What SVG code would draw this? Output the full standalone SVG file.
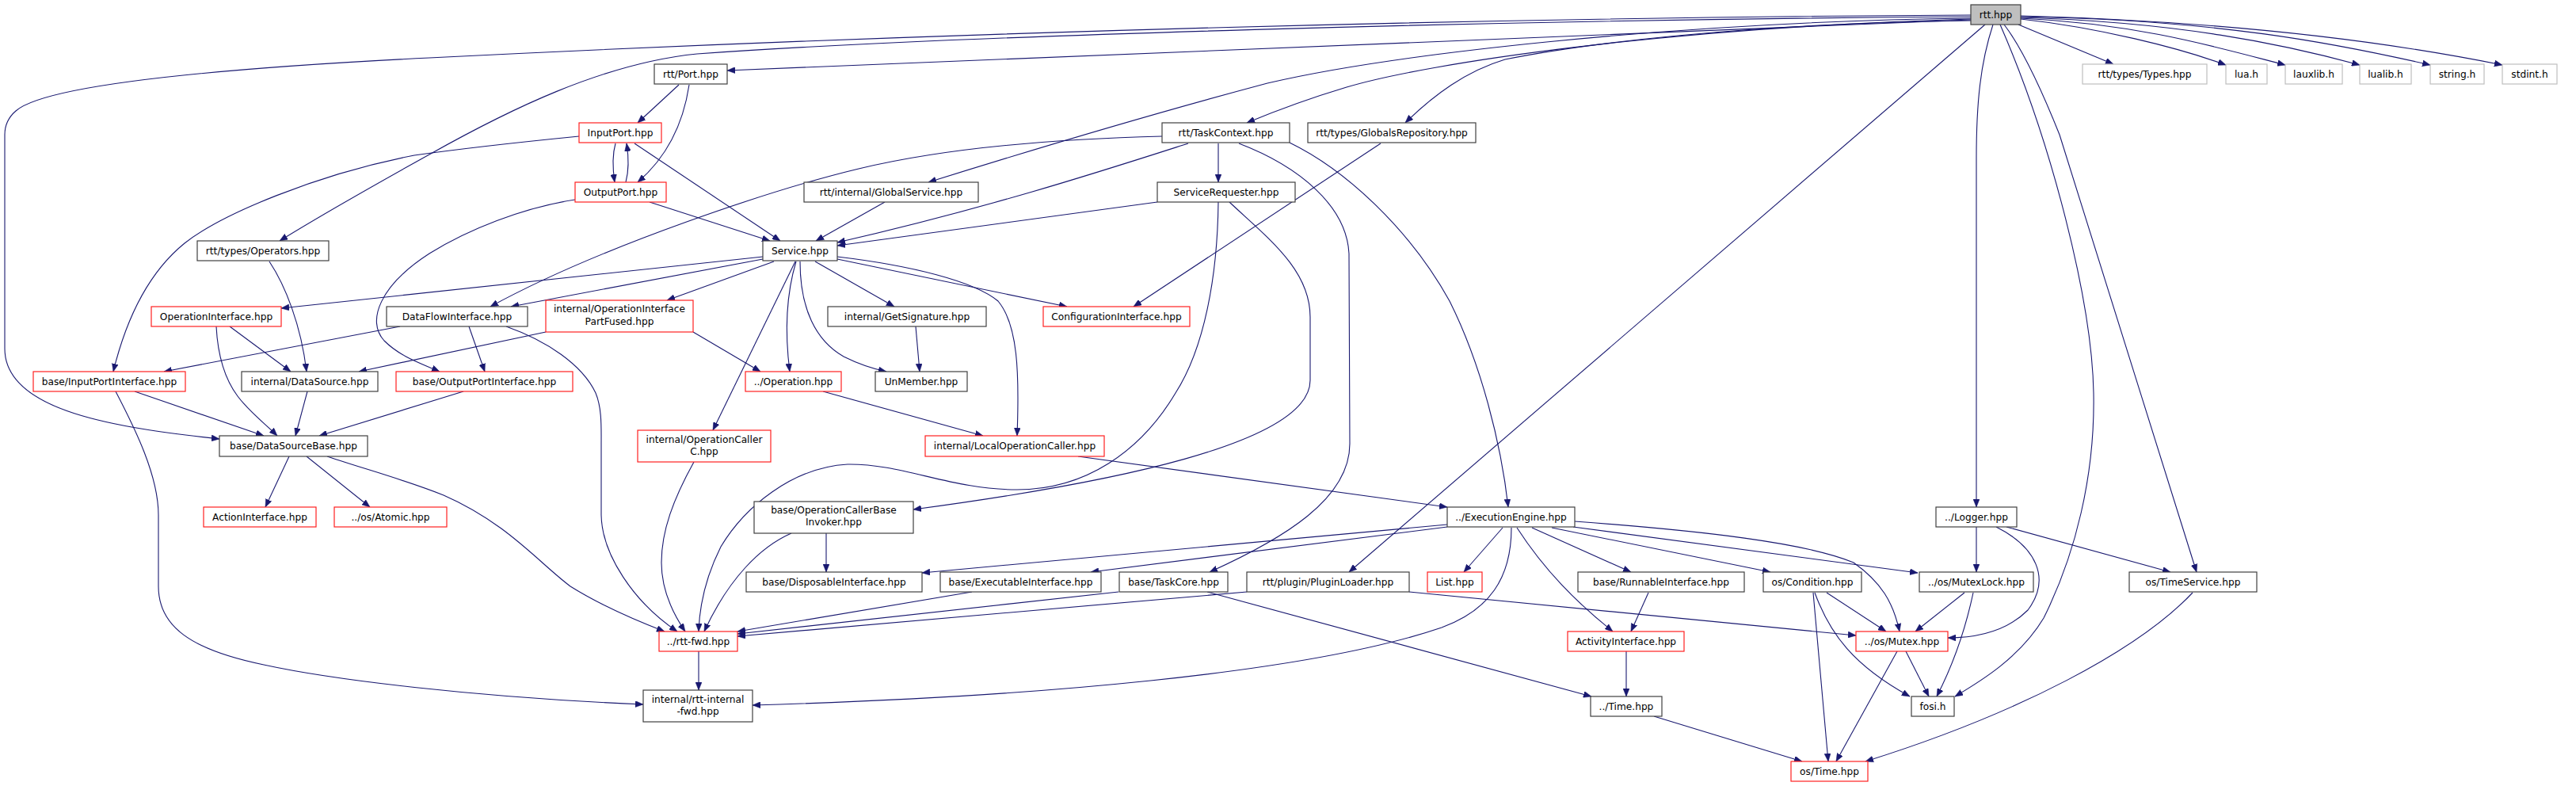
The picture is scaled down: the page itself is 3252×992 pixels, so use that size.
<svg xmlns="http://www.w3.org/2000/svg" width="3252" height="992" viewBox="0 0 3252 992">
<defs>
<style>
rect{fill:#fff;stroke:#404040;stroke-width:1.2}
rect.r{stroke:#ff2020}
rect.g{stroke:#bfbfbf}
rect.root{fill:#bfbfbf}
text{font-family:"DejaVu Sans","Liberation Sans",sans-serif;font-size:12.2px;text-anchor:middle;fill:#000}
#edges path{fill:none;stroke:#191970;stroke-width:1.1;marker-end:url(#a)}
</style>
<marker id="a" viewBox="0 0 10 8" markerWidth="10" markerHeight="8" refX="10" refY="4" orient="auto" markerUnits="userSpaceOnUse"><path d="M0,0 L10,4 L0,8 z" fill="#191970" stroke="#191970" stroke-width="0.5"/></marker>
</defs>
<rect x="0" y="0" width="3252" height="992" style="fill:#fff;stroke:none"/>
<g id="edges">
<path d="M2488,19 C1900,22 1200,40 542,73 C300,85 60,105 20,140 Q6,152 6,170 L6,440 C6,520 150,540 277,554"/>
<path d="M2488,25 L918,89"/>
<path d="M2488,21 C1900,25 1200,45 880,68 C760,80 640,140 542,195 C470,235 400,275 353,304"/>
<path d="M2488,23 C2100,28 1750,70 1600,105 C1450,145 1300,190 1172,230"/>
<path d="M2488,24 C2100,35 1800,80 1700,110 C1650,125 1610,140 1574,155"/>
<path d="M2488,26 C2200,30 2000,55 1900,75 C1850,90 1810,120 1774,155"/>
<path d="M2506,31 L1703,722"/>
<path d="M2516,31 C2500,80 2495,130 2495,200 L2495,640"/>
<path d="M2525,31 C2590,180 2641,380 2643,496 C2645,600 2620,700 2580,780 C2550,830 2500,860 2468,879"/>
<path d="M2530,31 Q2560,70 2600,170 L2773,722"/>
<path d="M2548,31 L2668,81"/>
<path d="M2551,24 C2650,35 2750,60 2810,82"/>
<path d="M2551,23 C2700,30 2800,60 2885,82"/>
<path d="M2551,22 C2750,28 2880,55 2979,82"/>
<path d="M2551,21 C2800,25 2950,55 3068,82"/>
<path d="M2551,20 C2850,28 3050,60 3159,82"/>
<path d="M857,107 L805,155"/>
<path d="M870,107 C862,160 840,200 805,230"/>
<path d="M777,181 C773,195 773,210 776,230"/>
<path d="M790,230 C794,215 794,200 791,181"/>
<path d="M801,181 L985,304"/>
<path d="M820,255 L972,304"/>
<path d="M731,172 C650,180 580,188 523,196 C400,220 280,270 233,307 C180,350 155,420 143,469"/>
<path d="M726,252 C660,262 590,290 542,320 C480,360 462,405 485,430 C505,450 530,458 555,469"/>
<path d="M340,330 C360,360 380,410 387,469"/>
<path d="M963,324 L355,389"/>
<path d="M963,327 L645,387"/>
<path d="M1467,172 C1350,175 1200,185 1084,213 C980,238 760,310 619,387"/>
<path d="M977,330 L842,379"/>
<path d="M1004,330 L900,543"/>
<path d="M1005,330 C990,380 992,430 997,469"/>
<path d="M1010,330 C1010,390 1030,430 1065,450 C1085,460 1100,465 1119,469"/>
<path d="M1029,330 L1129,387"/>
<path d="M1057,327 L1347,387"/>
<path d="M1057,324 C1150,335 1230,355 1260,380 C1285,410 1287,470 1284,550"/>
<path d="M1117,255 L1030,304"/>
<path d="M1500,181 C1400,213 1250,262 1057,306"/>
<path d="M1461,255 L1057,310"/>
<path d="M1538,181 L1538,230"/>
<path d="M1743,181 L1431,387"/>
<path d="M1628,180 C1700,215 1780,290 1830,380 C1870,460 1895,560 1904,640"/>
<path d="M1564,181 C1640,210 1700,260 1703,320 L1704,560 C1704,630 1620,680 1527,722"/>
<path d="M1552,255 C1600,300 1654,340 1654,400 L1654,480 C1654,560 1400,610 1153,643"/>
<path d="M1538,255 C1537,350 1520,440 1484,496 C1440,570 1370,618 1284,618 C1200,618 1140,585 1070,586 C1000,590 940,640 910,690 C890,730 883,765 882,797"/>
<path d="M1039,494 L1241,550"/>
<path d="M689,419 L453,469"/>
<path d="M875,419 L960,469"/>
<path d="M290,412 L367,469"/>
<path d="M273,412 C275,450 285,480 300,500 C315,520 335,535 350,550"/>
<path d="M505,412 L207,469"/>
<path d="M592,412 L612,469"/>
<path d="M639,412 C690,430 735,460 752,496 C760,515 759,540 759,560 L759,650 C760,700 800,760 855,797"/>
<path d="M1156,412 L1161,469"/>
<path d="M170,494 L333,550"/>
<path d="M146,494 C170,540 200,600 200,650 L200,740 C200,790 240,820 333,839 C420,858 600,880 812,889"/>
<path d="M388,494 L373,550"/>
<path d="M585,494 L403,550"/>
<path d="M365,576 L335,640"/>
<path d="M387,576 L467,640"/>
<path d="M413,576 C460,592 510,605 560,625 C640,660 680,710 720,740 C760,765 800,782 839,797"/>
<path d="M876,583 C850,630 835,670 835,710 C835,745 850,775 865,797"/>
<path d="M1043,673 L1043,722"/>
<path d="M999,673 C960,690 920,730 889,797"/>
<path d="M1227,747 L931,797"/>
<path d="M1412,747 L931,800"/>
<path d="M1574,747 L931,803"/>
<path d="M882,822 L882,871"/>
<path d="M1524,747 L2009,879"/>
<path d="M1779,747 L2343,802"/>
<path d="M1361,576 L1827,640"/>
<path d="M1827,662 L1164,723"/>
<path d="M1827,665 L1377,722"/>
<path d="M1897,666 L1848,722"/>
<path d="M1908,666 C1908,730 1880,770 1820,792 C1650,850 1300,880 950,890"/>
<path d="M1915,666 C1950,720 1990,760 2036,797"/>
<path d="M1934,666 L2059,722"/>
<path d="M1959,666 L2235,722"/>
<path d="M1986,665 L2421,723"/>
<path d="M1988,658 C2150,670 2280,685 2340,710 C2375,735 2390,760 2398,797"/>
<path d="M2081,748 L2059,797"/>
<path d="M2053,822 L2053,879"/>
<path d="M2088,904 L2275,961"/>
<path d="M2306,748 L2381,797"/>
<path d="M2291,748 C2310,800 2340,840 2411,879"/>
<path d="M2289,748 L2308,961"/>
<path d="M2480,748 L2418,797"/>
<path d="M2491,748 C2480,800 2465,840 2445,879"/>
<path d="M2495,665 L2495,722"/>
<path d="M2520,665 C2570,690 2590,730 2560,770 C2530,800 2490,805 2459,805"/>
<path d="M2533,665 L2740,722"/>
<path d="M2406,822 L2435,879"/>
<path d="M2395,822 L2318,961"/>
<path d="M2768,748 C2700,820 2550,900 2355,961"/>
</g>
<g id="n_rtt"><rect class="root" x="2488" y="6" width="63" height="25"/><text x="2519.5" y="22.5">rtt.hpp</text></g>
<g id="n_port"><rect x="826" y="81" width="92" height="25"/><text x="872" y="97.5">rtt/Port.hpp</text></g>
<g id="n_types"><rect class="g" x="2629" y="81" width="157" height="25"/><text x="2707.5" y="97.5">rtt/types/Types.hpp</text></g>
<g id="n_lua"><rect class="g" x="2810" y="81" width="52" height="25"/><text x="2836" y="97.5">lua.h</text></g>
<g id="n_lauxlib"><rect class="g" x="2885" y="81" width="72" height="25"/><text x="2921" y="97.5">lauxlib.h</text></g>
<g id="n_lualib"><rect class="g" x="2979" y="81" width="65" height="25"/><text x="3011.5" y="97.5">lualib.h</text></g>
<g id="n_string"><rect class="g" x="3068" y="81" width="68" height="25"/><text x="3102" y="97.5">string.h</text></g>
<g id="n_stdint"><rect class="g" x="3159" y="81" width="69" height="25"/><text x="3193.5" y="97.5">stdint.h</text></g>
<g id="n_inputport"><rect class="r" x="731" y="155" width="104" height="25"/><text x="783" y="171.5">InputPort.hpp</text></g>
<g id="n_taskcontext"><rect x="1467" y="155" width="161" height="25"/><text x="1547.5" y="171.5">rtt/TaskContext.hpp</text></g>
<g id="n_globalsrepo"><rect x="1651" y="155" width="212" height="25"/><text x="1757" y="171.5">rtt/types/GlobalsRepository.hpp</text></g>
<g id="n_outputport"><rect class="r" x="726" y="230" width="115" height="25"/><text x="783.5" y="246.5">OutputPort.hpp</text></g>
<g id="n_globalservice"><rect x="1015" y="230" width="220" height="25"/><text x="1125" y="246.5">rtt/internal/GlobalService.hpp</text></g>
<g id="n_servicerequester"><rect x="1461" y="230" width="174" height="25"/><text x="1548" y="246.5">ServiceRequester.hpp</text></g>
<g id="n_operators"><rect x="249" y="304" width="166" height="25"/><text x="332" y="320.5">rtt/types/Operators.hpp</text></g>
<g id="n_service"><rect x="963" y="304" width="94" height="25"/><text x="1010" y="320.5">Service.hpp</text></g>
<g id="n_operationinterface"><rect class="r" x="191" y="387" width="164" height="25"/><text x="273" y="403.5">OperationInterface.hpp</text></g>
<g id="n_dataflowinterface"><rect x="488" y="387" width="178" height="25"/><text x="577" y="403.5">DataFlowInterface.hpp</text></g>
<g id="n_partfused"><rect class="r" x="689" y="379" width="186" height="40"/><text x="782" y="394">internal/OperationInterface</text><text x="782" y="410">PartFused.hpp</text></g>
<g id="n_getsignature"><rect x="1045" y="387" width="200" height="25"/><text x="1145" y="403.5">internal/GetSignature.hpp</text></g>
<g id="n_configinterface"><rect class="r" x="1317" y="387" width="185" height="25"/><text x="1409.5" y="403.5">ConfigurationInterface.hpp</text></g>
<g id="n_inputportinterface"><rect class="r" x="42" y="469" width="192" height="25"/><text x="138" y="485.5">base/InputPortInterface.hpp</text></g>
<g id="n_datasource"><rect x="305" y="469" width="172" height="25"/><text x="391" y="485.5">internal/DataSource.hpp</text></g>
<g id="n_outputportinterface"><rect class="r" x="500" y="469" width="223" height="25"/><text x="611.5" y="485.5">base/OutputPortInterface.hpp</text></g>
<g id="n_operation"><rect class="r" x="941" y="469" width="121" height="25"/><text x="1001.5" y="485.5">../Operation.hpp</text></g>
<g id="n_unmember"><rect x="1105" y="469" width="116" height="25"/><text x="1163" y="485.5">UnMember.hpp</text></g>
<g id="n_datasourcebase"><rect x="277" y="550" width="187" height="26"/><text x="370.5" y="567">base/DataSourceBase.hpp</text></g>
<g id="n_localopcaller"><rect class="r" x="1168" y="550" width="226" height="26"/><text x="1281" y="567">internal/LocalOperationCaller.hpp</text></g>
<g id="n_opcallerc"><rect class="r" x="805" y="543" width="168" height="40"/><text x="889" y="559">internal/OperationCaller</text><text x="889" y="574">C.hpp</text></g>
<g id="n_actioninterface"><rect class="r" x="257" y="640" width="142" height="25"/><text x="328" y="656.5">ActionInterface.hpp</text></g>
<g id="n_atomic"><rect class="r" x="422" y="640" width="142" height="25"/><text x="493" y="656.5">../os/Atomic.hpp</text></g>
<g id="n_executionengine"><rect x="1827" y="640" width="161" height="25"/><text x="1907.5" y="656.5">../ExecutionEngine.hpp</text></g>
<g id="n_logger"><rect x="2444" y="640" width="102" height="25"/><text x="2495" y="656.5">../Logger.hpp</text></g>
<g id="n_baseinvoker"><rect x="952" y="633" width="201" height="40"/><text x="1052.5" y="648">base/OperationCallerBase</text><text x="1052.5" y="663">Invoker.hpp</text></g>
<g id="n_disposable"><rect x="942" y="722" width="222" height="25"/><text x="1053" y="738.5">base/DisposableInterface.hpp</text></g>
<g id="n_executable"><rect x="1187" y="722" width="203" height="25"/><text x="1288.5" y="738.5">base/ExecutableInterface.hpp</text></g>
<g id="n_taskcore"><rect x="1413" y="722" width="137" height="25"/><text x="1481.5" y="738.5">base/TaskCore.hpp</text></g>
<g id="n_pluginloader"><rect x="1574" y="722" width="205" height="25"/><text x="1676.5" y="738.5">rtt/plugin/PluginLoader.hpp</text></g>
<g id="n_list"><rect class="r" x="1802" y="722" width="69" height="25"/><text x="1836.5" y="738.5">List.hpp</text></g>
<g id="n_runnable"><rect x="1992" y="722" width="210" height="25"/><text x="2097" y="738.5">base/RunnableInterface.hpp</text></g>
<g id="n_condition"><rect x="2226" y="722" width="124" height="25"/><text x="2288" y="738.5">os/Condition.hpp</text></g>
<g id="n_mutexlock"><rect x="2423" y="722" width="144" height="25"/><text x="2495" y="738.5">../os/MutexLock.hpp</text></g>
<g id="n_timeservice"><rect x="2688" y="722" width="161" height="25"/><text x="2768.5" y="738.5">os/TimeService.hpp</text></g>
<g id="n_rttfwd"><rect class="r" x="832" y="797" width="99" height="25"/><text x="881.5" y="813.5">../rtt-fwd.hpp</text></g>
<g id="n_activity"><rect class="r" x="1979" y="797" width="147" height="25"/><text x="2052.5" y="813.5">ActivityInterface.hpp</text></g>
<g id="n_mutex"><rect class="r" x="2343" y="797" width="116" height="25"/><text x="2401" y="813.5">../os/Mutex.hpp</text></g>
<g id="n_rttinternalfwd"><rect x="812" y="871" width="138" height="40"/><text x="881" y="887">internal/rtt-internal</text><text x="881" y="902">-fwd.hpp</text></g>
<g id="n_time"><rect x="2008" y="879" width="90" height="25"/><text x="2053" y="895.5">../Time.hpp</text></g>
<g id="n_fosi"><rect x="2413" y="879" width="54" height="25"/><text x="2440" y="895.5">fosi.h</text></g>
<g id="n_ostime"><rect class="r" x="2261" y="961" width="97" height="25"/><text x="2309.5" y="977.5">os/Time.hpp</text></g>
</svg>
